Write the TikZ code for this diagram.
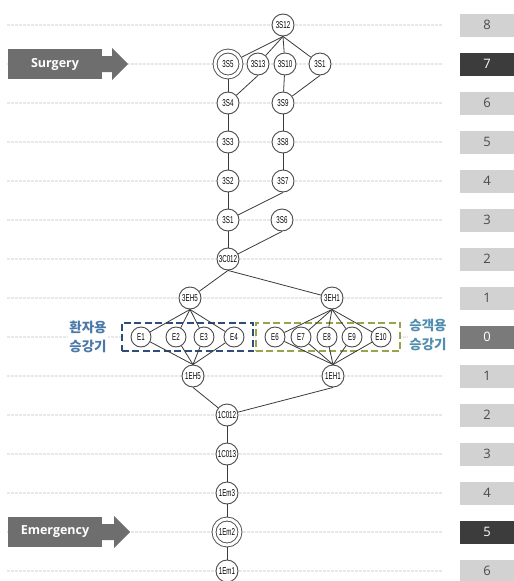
\documentclass[tikz,border=0pt]{standalone}
\usepackage{fontspec}
\setmainfont{Liberation Sans}
\newfontfamily\roomfont[FakeStretch=0.62]{Liberation Sans}
\newfontfamily\floorfont{Open Sans}
\newfontfamily\kofont{Noto Sans CJK KR}
\usepackage{tikz}
\usetikzlibrary{shapes,arrows,positioning,fit,backgrounds}
\usepackage{xcolor}
\definecolor{edgegray}{HTML}{3A3A3A}
\definecolor{ringgray}{HTML}{4A4A4A}
\definecolor{storeylight}{HTML}{D2D2D2}
\definecolor{storeydark}{HTML}{3C3C3C}
\definecolor{storeymid}{HTML}{7A7A7A}
\definecolor{storeytext}{HTML}{4A4A4A}
\definecolor{taggray}{HTML}{6E6E6E}
\definecolor{patientblue}{HTML}{2E4D7C}
\definecolor{visitorgreen}{HTML}{9BA24C}
\definecolor{kolabelblue}{HTML}{4A78A8}
\definecolor{kolabelteal}{HTML}{4F8EAE}

\begin{document}
\begin{tikzpicture}[x=1pt,y=-1pt]
      \tikzstyle{room} = [circle, draw=ringgray, line width=0.9pt, fill=white, minimum size=22pt, inner sep=0pt, font=\roomfont\fontsize{10}{10}\selectfont]
      \tikzstyle{lift} = [room, minimum size=20pt]
      \tikzstyle{exitroom} = [room, double, double distance=3pt, minimum size=26pt, outer sep=2.4pt]
      \tikzstyle{link} = [draw=edgegray, line width=0.8pt]
      \tikzstyle{storey} = [rectangle, fill=storeylight, text=storeytext, minimum width=54pt, minimum height=23pt, inner sep=0pt, font=\floorfont\fontsize{13}{14}\selectfont]
      \tikzstyle{storeydark} = [storey, fill=storeydark, text=white]
      \tikzstyle{storeyline} = [gray!18, line width=1.3pt, dash pattern=on 3pt off 1pt]
      \tikzstyle{liftbox} = [rectangle, line width=2pt, dash pattern=on 7pt off 3.5pt, fill=white, inner xsep=9pt, inner ysep=4pt]
      \tikzstyle{tag} = [rectangle, fill=taggray, text=white, minimum width=94pt, minimum height=30pt, font=\floorfont\bfseries\fontsize{12.5}{13}\selectfont]
      \tikzstyle{kolabel} = [align=center, fill=white, inner sep=1pt, font=\kofont\bfseries\fontsize{13.5}{19}\selectfont]

      \useasboundingbox (0,0) rectangle (514,581);

      % floor numbers
      \node[storey] (f8) at (487,25) {8};
      \node[storeydark] (f7) at (487,64) {7};
      \node[storey] (f6) at (487,103) {6};
      \node[storey] (f5) at (487,142) {5};
      \node[storey] (f4) at (487,181) {4};
      \node[storey] (f3) at (487,220) {3};
      \node[storey] (f2) at (487,259) {2};
      \node[storey] (f1) at (487,298) {1};
      \node[storeydark, fill=storeymid] (f0) at (487,337) {0};
      \node[storey] (b1) at (487,376) {1};
      \node[storey] (b2) at (487,415) {2};
      \node[storey] (b3) at (487,454) {3};
      \node[storey] (b4) at (487,493) {4};
      \node[storeydark] (b5) at (487,532) {5};
      \node[storey] (b6) at (487,571) {6};

      % upper building
      \node[room] (s12) at (283,25) {3S12};
      \node[exitroom] (s5) at (228,64) {3S5};
      \node[room] (s13) at (258,64) {3S13};
      \node[room] (s10) at (285,64) {3S10};
      \node[room] (s1top) at (320,64) {3S1};
      \node[room] (s4) at (228,103) {3S4};
      \node[room] (s9) at (283,103) {3S9};
      \node[room] (s3) at (228,142) {3S3};
      \node[room] (s8) at (283,142) {3S8};
      \node[room] (s2) at (228,181) {3S2};
      \node[room] (s7) at (283,181) {3S7};
      \node[room] (s1) at (228,220) {3S1};
      \node[room] (s6) at (282,220) {3S6};
      \node[room] (c012) at (228,259) {3C012};
      \node[room] (eh5) at (190,298) {3EH5};
      \node[room] (eh1) at (332,298) {3EH1};

      % elevators
      \node[lift] (e1) at (141,337) {E1};
      \node[lift] (e2) at (176,337) {E2};
      \node[lift] (e3) at (204,337) {E3};
      \node[lift] (e4) at (234,337) {E4};
      \node[lift] (e6) at (275,337) {E6};
      \node[lift] (e7) at (301,337) {E7};
      \node[lift] (e8) at (327,337) {E8};
      \node[lift] (e9) at (352,337) {E9};
      \node[lift] (e10) at (381,337) {E10};

      % lower building
      \node[room] (beh5) at (193,376) {1EH5};
      \node[room] (beh1) at (333,376) {1EH1};
      \node[room] (bc012) at (227,415) {1C012};
      \node[room] (bc013) at (227,454) {1C013};
      \node[room] (em3) at (227,493) {1Em3};
      \node[exitroom] (em2) at (227,532) {1Em2};
      \node[room] (em1) at (227,571) {1Em1};

      \node[kolabel, text=kolabelblue] (patientlbl) at (88,337) {환자용\\승강기};
      \node[kolabel, text=kolabelteal] (visitorlbl) at (428,335) {승객용\\승강기};

      \node[tag] (surgery) at (55,64) {Surgery};
      \fill[taggray] (surgery.east) ++(0,-8) -- ++(10,0) -- ++(0,-8) -- ++(16,16) -- ++(-16,16) -- ++(0,-8) -- ++(-10,0) -- cycle;
      \node[tag] (emergency) at (55,532) {Emergency};
      \fill[taggray] (emergency.east) ++(0,-8) -- ++(12,0) -- ++(0,-8) -- ++(16,16) -- ++(-16,16) -- ++(0,-8) -- ++(-12,0) -- cycle;

      \begin{scope}[on background layer]
        \draw[storeyline] (7,25) -- (442,25);
        \draw[storeyline] (7,64) -- (442,64);
        \draw[storeyline] (7,103) -- (442,103);
        \draw[storeyline] (7,142) -- (442,142);
        \draw[storeyline] (7,181) -- (442,181);
        \draw[storeyline] (7,220) -- (442,220);
        \draw[storeyline] (7,259) -- (442,259);
        \draw[storeyline] (7,298) -- (442,298);
        \draw[storeyline] (7,337) -- (442,337);
        \draw[storeyline] (7,376) -- (442,376);
        \draw[storeyline] (7,415) -- (442,415);
        \draw[storeyline] (7,454) -- (442,454);
        \draw[storeyline] (7,493) -- (442,493);
        \draw[storeyline] (7,532) -- (442,532);
        \draw[storeyline] (7,571) -- (442,571);
        \node[liftbox, draw=patientblue, fit=(e1)(e4)] (patientbox) {};
        \node[liftbox, draw=visitorgreen, fit=(e6)(e10)] (visitorbox) {};
      \end{scope}

      \draw[link] (s12.south) -- (s5);
      \draw[link] (s12.south) -- (s13);
      \draw[link] (s12.south) -- (s10);
      \draw[link] (s12.south) -- (s1top);
      \draw[link] (s5) -- (s4);
      \draw[link] (s13.south) -- (s4);
      \draw[link] (s10) -- (s9);
      \draw[link] (s1top.south) -- (s9);
      \draw[link] (s4) -- (s3);
      \draw[link] (s3) -- (s2);
      \draw[link] (s2) -- (s1);
      \draw[link] (s9) -- (s8);
      \draw[link] (s8) -- (s7);
      \draw[link] (s7.south) -- (s1);
      \draw[link] (s1) -- (c012);
      \draw[link] (s6.south) -- (c012);
      \draw[link] (c012.south) -- (eh5);
      \draw[link] (c012.south) -- (eh1);

      \draw[link] (eh5.south) -- (e1);
      \draw[link] (eh5.south) -- (e2);
      \draw[link] (eh5.south) -- (e3);
      \draw[link] (eh5.south) -- (e4);
      \draw[link] (eh1.south) -- (e6);
      \draw[link] (eh1.south) -- (e7);
      \draw[link] (eh1.south) -- (e8);
      \draw[link] (eh1.south) -- (e9);
      \draw[link] (eh1.south) -- (e10);
      \draw[link] (e1) -- (beh5.north);
      \draw[link] (e2) -- (beh5.north);
      \draw[link] (e3) -- (beh5.north);
      \draw[link] (e4) -- (beh5.north);
      \draw[link] (e6) -- (beh1.north);
      \draw[link] (e7) -- (beh1.north);
      \draw[link] (e8) -- (beh1.north);
      \draw[link] (e9) -- (beh1.north);
      \draw[link] (e10) -- (beh1.north);

      \draw[link] (beh5.south) -- (bc012);
      \draw[link] (beh1.south) -- (bc012);
      \draw[link] (bc012) -- (bc013);
      \draw[link] (bc013) -- (em3);
      \draw[link] (em3) -- (em2);
      \draw[link] (em2) -- (em1);
    \end{tikzpicture}
\end{document}
